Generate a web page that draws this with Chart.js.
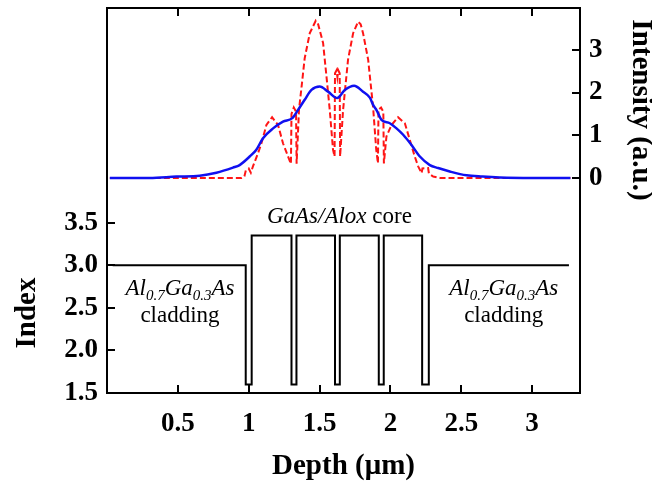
<!DOCTYPE html>
<html><head><meta charset="utf-8">
<script src="https://cdn.jsdelivr.net/npm/chart.js@4.4.0/dist/chart.umd.min.js"></script>
<style>html,body{margin:0;padding:0;background:#fff}#wrap{width:652px;height:490px;position:relative}</style>
</head><body><div id="wrap"><canvas id="c" width="652" height="490"></canvas></div>
<script>
// ---- data ----
const depthTicks = [0.5, 1, 1.5, 2, 2.5, 3];
const depthTickLabels = ["0.5", "1", "1.5", "2", "2.5", "3"];
const indexTicks = [1.5, 2, 2.5, 3, 3.5];
const indexTickLabels = ["1.5", "2.0", "2.5", "3.0", "3.5"];
const intensityTicks = [0, 1, 2, 3];
const intensityTickLabels = ["0", "1", "2", "3"];

// refractive index profile: value holds from edge[i] to edge[i+1]
const layerEdges = [0.04, 0.979, 1.021, 1.302, 1.337, 1.609, 1.643, 1.918, 1.953, 2.224, 2.271, 3.26];
const layerIndex = [3.0, 1.6, 3.35, 1.6, 3.35, 1.6, 3.35, 1.6, 3.35, 1.6, 3.0, 3.0];

// blue (solid) intensity
const blueDepth = [0.02, 0.3, 0.49, 0.654, 0.772, 0.889, 0.936, 1.007, 1.054, 1.101, 1.172, 1.242, 1.308, 1.348, 1.395, 1.443, 1.501, 1.560, 1.624, 1.678, 1.744, 1.807, 1.855, 1.878, 1.902, 1.937, 1.996, 2.043, 2.090, 2.149, 2.208, 2.278, 2.337, 2.419, 2.537, 2.65, 2.772, 3.0, 3.27];
const blueIntensity = [0, 0, 0.03, 0.05, 0.12, 0.24, 0.30, 0.50, 0.66, 0.93, 1.16, 1.32, 1.40, 1.59, 1.83, 2.06, 2.14, 2.02, 1.87, 2.06, 2.16, 2.02, 1.88, 1.71, 1.59, 1.36, 1.28, 1.16, 1.01, 0.77, 0.50, 0.30, 0.23, 0.15, 0.06, 0.03, 0.01, 0, 0];

// red (dashed) intensity
const redDepth = [0.02, 0.95, 0.97, 0.98, 1.00, 1.015, 1.03, 1.066, 1.09, 1.125, 1.165, 1.207, 1.242, 1.278, 1.298, 1.302, 1.318, 1.334, 1.338, 1.355, 1.372, 1.395, 1.431, 1.473, 1.49, 1.525, 1.549, 1.572, 1.595, 1.606, 1.609, 1.62, 1.626, 1.632, 1.642, 1.645, 1.666, 1.701, 1.737, 1.772, 1.79, 1.807, 1.843, 1.878, 1.90, 1.912, 1.916, 1.934, 1.95, 1.954, 1.972, 2.008, 2.054, 2.102, 2.137, 2.172, 2.196, 2.220, 2.226, 2.266, 2.272, 2.302, 2.35, 3.27];
const redIntensity = [0, 0, 0.04, 0.18, 0.22, 0.12, 0.27, 0.58, 0.81, 1.24, 1.42, 1.24, 0.81, 0.50, 0.33, 1.50, 1.65, 1.55, 0.33, 1.60, 2.10, 2.80, 3.39, 3.68, 3.60, 3.16, 2.37, 1.59, 0.66, 0.50, 2.45, 2.52, 2.36, 2.52, 2.45, 0.50, 1.59, 2.77, 3.39, 3.66, 3.60, 3.39, 2.77, 1.65, 0.66, 0.34, 1.60, 1.65, 1.55, 0.34, 0.97, 1.24, 1.42, 1.28, 0.89, 0.50, 0.27, 0.11, 0.22, 0.23, 0.10, 0.03, 0, 0];

// ---- helpers ----
const zip = (xs, ys) => xs.map((x, i) => ({x: x, y: ys[i]}));
const SERIF = "'Liberation Serif', 'Times New Roman', serif";
const tickFont = {family: SERIF, size: 27, weight: 'bold'};

const fixedTicks = (vals) => (s) => { s.ticks = vals.map(v => ({value: v})); };
const labelFor = (vals, labels) => (v) => { const i = vals.indexOf(v); return i >= 0 ? labels[i] : ''; };
const fitTo = (dim, size) => (s) => { s[dim] = size; s.paddingTop = 0; s.paddingBottom = 0; s.paddingLeft = 0; s.paddingRight = 0; };

const decorPlugin = {
  id: 'decor',
  afterDraw(chart) {
    const ctx = chart.ctx;
    const {x, yIdx, yInt} = chart.scales;
    const a = chart.chartArea;
    const TL = 8;
    ctx.save();
    ctx.strokeStyle = '#000';
    ctx.lineWidth = 2;
    ctx.beginPath();
    depthTicks.forEach(v => {
      const px = Math.round(x.getPixelForValue(v));
      ctx.moveTo(px, a.bottom); ctx.lineTo(px, a.bottom - TL);
      ctx.moveTo(px, a.top); ctx.lineTo(px, a.top + TL);
    });
    indexTicks.forEach(v => {
      const py = Math.round(yIdx.getPixelForValue(v));
      ctx.moveTo(a.left, py); ctx.lineTo(a.left + TL, py);
    });
    intensityTicks.forEach(v => {
      const py = Math.round(yInt.getPixelForValue(v));
      ctx.moveTo(a.right, py); ctx.lineTo(a.right - TL, py);
    });
    ctx.stroke();

    // axis titles
    ctx.fillStyle = '#000';
    ctx.font = 'bold 29px ' + SERIF;
    ctx.textAlign = 'center';
    ctx.textBaseline = 'middle';
    ctx.fillText('Depth (\u03bcm)', (a.left + a.right) / 2, 467);
    ctx.save();
    ctx.translate(28, 313);
    ctx.rotate(-Math.PI / 2);
    ctx.fillText('Index', 0, 0);
    ctx.restore();
    ctx.save();
    ctx.translate(640, 110);
    ctx.rotate(Math.PI / 2);
    ctx.fillText('Intensity (a.u.)', 0, 0);
    ctx.restore();

    // annotations
    ctx.textBaseline = 'alphabetic';
    ctx.textAlign = 'left';
    const it22 = 'italic 23px ' + SERIF, rg22 = '23px ' + SERIF, it15 = 'italic 15px ' + SERIF;
    function runs(parts, cx, by) {
      let w = 0;
      parts.forEach(p => { ctx.font = p[1]; w += ctx.measureText(p[0]).width; });
      let px = cx - w / 2;
      parts.forEach(p => { ctx.font = p[1]; ctx.fillText(p[0], px, by + (p[2] || 0)); px += ctx.measureText(p[0]).width; });
    }
    runs([['GaAs/Alox', it22], [' core', rg22]], x.getPixelForValue(1.64), yIdx.getPixelForValue(3.495));
    const alga = [['Al', it22], ['0.7', it15, 5], ['Ga', it22], ['0.3', it15, 5], ['As', it22]];
    [0.515, 2.80].forEach(d => {
      const cx = x.getPixelForValue(d);
      runs(alga, cx, yIdx.getPixelForValue(2.65));
      runs([['cladding', rg22]], cx, yIdx.getPixelForValue(2.333));
    });
    ctx.restore();
  }
};

new Chart(document.getElementById('c'), {
  type: 'line',
  data: {
    datasets: [
      {label: 'Index', data: zip(layerEdges, layerIndex), yAxisID: 'yIdx', xAxisID: 'x', borderColor: '#000', borderWidth: 2, pointRadius: 0, stepped: true, fill: false},
      {label: 'blue', data: zip(blueDepth, blueIntensity), yAxisID: 'yInt', xAxisID: 'x', borderColor: '#1010f0', borderWidth: 2.5, pointRadius: 0, cubicInterpolationMode: 'monotone', fill: false},
      {label: 'red', data: zip(redDepth, redIntensity), yAxisID: 'yInt', xAxisID: 'x', borderColor: '#ff1515', borderWidth: 2, borderDash: [6, 3], pointRadius: 0, tension: 0, fill: false}
    ]
  },
  options: {
    responsive: false, animation: false, devicePixelRatio: 1,
    layout: {padding: 0},
    plugins: {legend: {display: false}, tooltip: {enabled: false}},
    scales: {
      x: {type: 'linear', position: 'bottom', min: 0, max: 3.338,
        grid: {display: false, drawTicks: false}, border: {display: true, color: '#000', width: 2},
        ticks: {font: tickFont, color: '#000', padding: 15, autoSkip: false, maxRotation: 0, callback: labelFor(depthTicks, depthTickLabels)},
        afterBuildTicks: fixedTicks(depthTicks), afterFit: fitTo('height', 97)},
      x2: {type: 'linear', position: 'top', min: 0, max: 3.338,
        grid: {display: false, drawTicks: false}, border: {display: true, color: '#000', width: 2},
        ticks: {display: false}, afterFit: fitTo('height', 8)},
      yIdx: {type: 'linear', position: 'left', min: 1.5, max: 6.02,
        grid: {display: false, drawTicks: false}, border: {display: true, color: '#000', width: 2},
        ticks: {font: tickFont, color: '#000', padding: 9, autoSkip: false, callback: labelFor(indexTicks, indexTickLabels)},
        afterBuildTicks: fixedTicks(indexTicks), afterFit: fitTo('width', 107)},
      yInt: {type: 'linear', position: 'right', min: -5.04, max: 3.98,
        grid: {display: false, drawTicks: false}, border: {display: true, color: '#000', width: 2},
        ticks: {font: tickFont, color: '#000', padding: 9, autoSkip: false, callback: labelFor(intensityTicks, intensityTickLabels)},
        afterBuildTicks: fixedTicks(intensityTicks), afterFit: fitTo('width', 72)}
    }
  },
  plugins: [decorPlugin]
});
</script></body></html>
